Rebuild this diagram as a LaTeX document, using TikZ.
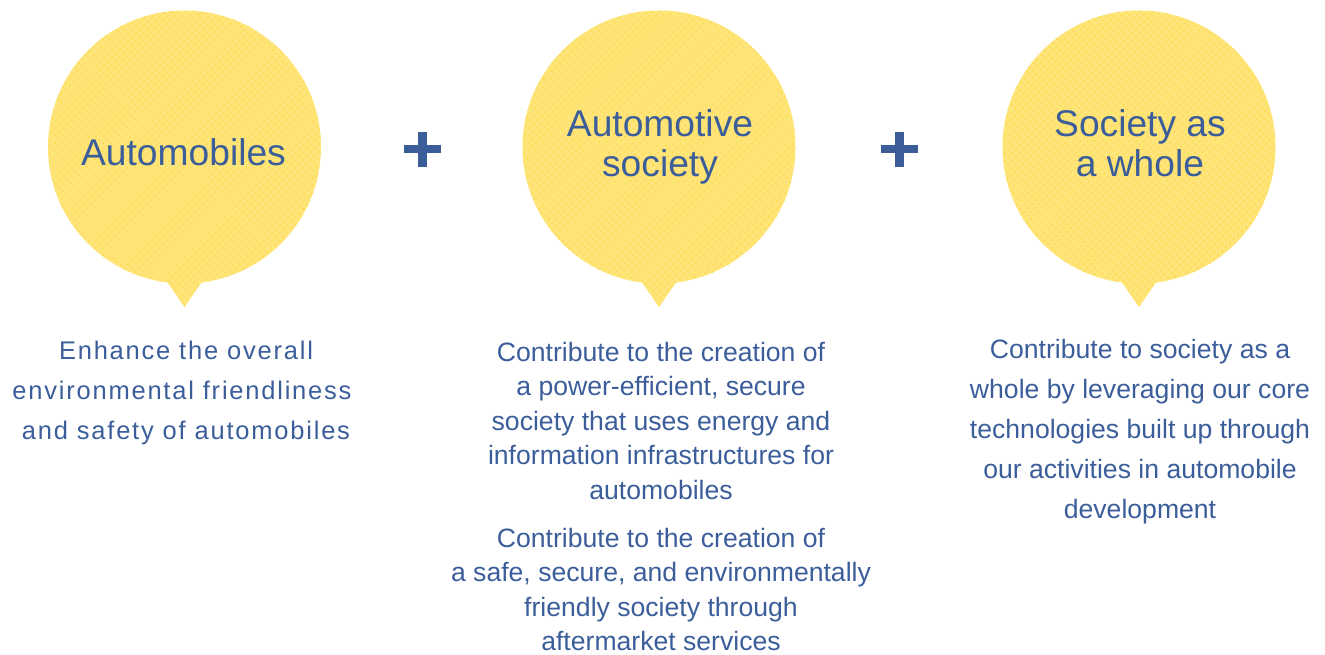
\documentclass[tikz,border=0pt]{standalone}
\usepackage{fontspec}
\usetikzlibrary{patterns.meta}
\setmainfont{Liberation Sans}
\newfontfamily\spacedfont[LetterSpace=7]{Liberation Sans}
\definecolor{bubbleyellow}{HTML}{FFE478}
\definecolor{dotyellow}{HTML}{FFD94E}
\definecolor{textblue}{HTML}{3B5E9B}
\pgfdeclarepattern{
  name=bubbledots,
  type=uncolored,
  bottom left={\pgfpoint{0pt}{0pt}},
  top right={\pgfpoint{5pt}{5pt}},
  tile size={\pgfpoint{5pt}{5pt}},
  tile transformation={\pgftransformrotate{45}},
  code={\pgfpathcircle{\pgfpoint{2.5pt}{2.5pt}}{1.4pt}\pgfusepath{fill}}
}
\begin{document}
\begin{tikzpicture}[x=1pt,y=-1pt,
  bubble/.style={fill=bubbleyellow,draw=none,postaction={pattern=bubbledots,pattern color=dotyellow}},
  title/.style={inner sep=0pt,anchor=base,text=textblue,font=\fontsize{37.2}{41}\selectfont},
  bodyline/.style={inner sep=0pt,anchor=base,text=textblue,font=\fontsize{26.6}{34}\selectfont},
  spacedline/.style={inner sep=0pt,anchor=base,text=textblue,font=\spacedfont\fontsize{25.5}{40}\selectfont},
  plusbar/.style={fill=textblue,draw=none}]
\useasboundingbox (0,0) rectangle (1325,655);
% bubbles
\foreach \name/\cx in {b1/184.5,b2/659,b3/1139}{
  \coordinate (\name) at (\cx,147);
  \path[bubble] (\name) circle[radius=136.5]
    ([xshift=-18pt,yshift=-134pt]\name) -- ([xshift=18pt,yshift=-134pt]\name) -- ([yshift=-160pt]\name) -- cycle;
}
% titles
\node[title] (t1) at (183.5,166) {Automobiles};
\node[title] (t2a) at (660,137) {Automotive};
\node[title] (t2b) at (660,177) {society};
\node[title] (t3a) at (1140,137) {Society as};
\node[title] (t3b) at (1140,177) {a whole};
% plus signs
\foreach \name/\px in {p1/422.5,p2/899}{
  \coordinate (\name) at (\px,149.5);
  \fill[plusbar] ([xshift=-18.5pt,yshift=4pt]\name) rectangle ([xshift=18.5pt,yshift=-4pt]\name);
  \fill[plusbar] ([xshift=-4.5pt,yshift=17.5pt]\name) rectangle ([xshift=4.5pt,yshift=-17.5pt]\name);
}
% left text
\node[spacedline] (l1) at (186,359) {Enhance the overall};
\node[spacedline] (l2) at (182,399) {environmental friendliness};
\node[spacedline] (l3) at (186,439) {and safety of automobiles};
% middle text
\node[bodyline] (m1) at (661,361) {Contribute to the creation of};
\node[bodyline] (m2) at (661,395.5) {a power-efficient, secure};
\node[bodyline] (m3) at (661,430) {society that uses energy and};
\node[bodyline] (m4) at (661,464.5) {information infrastructures for};
\node[bodyline] (m5) at (661,499) {automobiles};
\node[bodyline] (m6) at (661,547) {Contribute to the creation of};
\node[bodyline] (m7) at (661,581.5) {a safe, secure, and environmentally};
\node[bodyline] (m8) at (661,616) {friendly society through};
\node[bodyline] (m9) at (661,650.5) {aftermarket services};
% right text
\node[bodyline] (r1) at (1140,358.5) {Contribute to society as a};
\node[bodyline] (r2) at (1140,398.5) {whole by leveraging our core};
\node[bodyline] (r3) at (1140,438.5) {technologies built up through};
\node[bodyline] (r4) at (1140,478.5) {our activities in automobile};
\node[bodyline] (r5) at (1140,518.5) {development};
\end{tikzpicture}
\end{document}
